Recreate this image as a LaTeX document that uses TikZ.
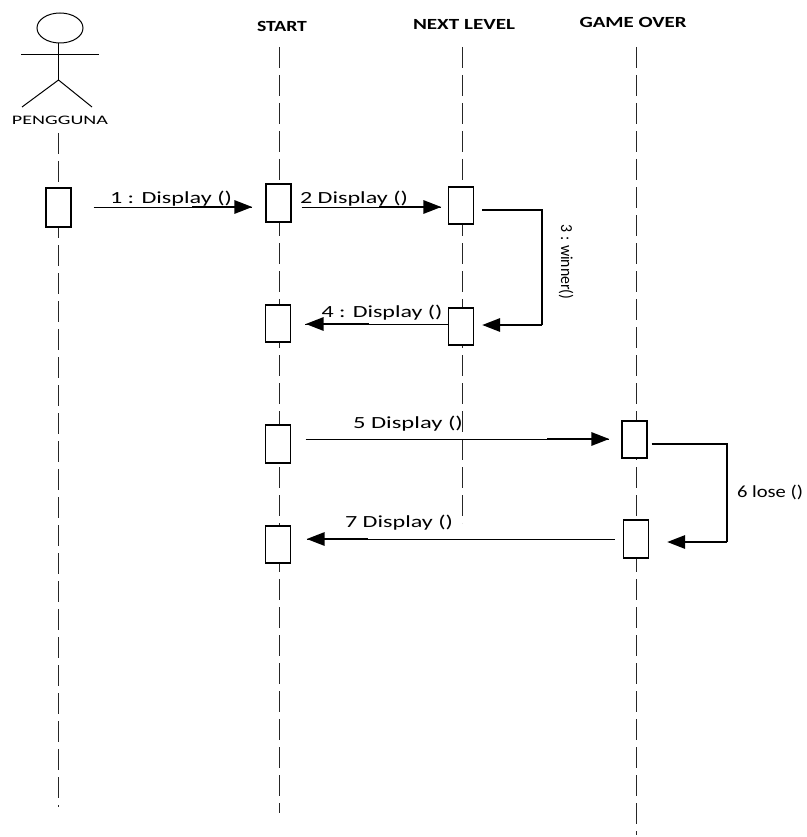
\documentclass[tikz,border=0pt]{standalone}
\usepackage{fontspec}
\setmainfont{Carlito}
\usepackage{graphicx}
\usetikzlibrary{arrows.meta,shapes.geometric,calc}
\newcommand{\fitw}[2]{\resizebox{#1}{\height}{#2}}
\tikzset{
  life/.style={draw=black!85, line width=0.9pt, dash pattern=on 21pt off 7pt},
  act/.style={draw, line width=1.1pt, fill=white, minimum width=25pt, inner sep=0pt},
  msg/.style={line width=1pt},
  heavy/.style={line width=2.8pt, -{Triangle[length=18pt,width=13pt]}},
  lbl/.style={font=\fontsize{17}{19}\selectfont, inner sep=0pt, anchor=base},
  hdr/.style={font=\fontsize{15.5}{17}\selectfont\bfseries, inner sep=0pt, anchor=base},
  limb/.style={line width=1pt}
}
\begin{document}
\begin{tikzpicture}[x=1pt,y=-1pt]
\useasboundingbox (0,0) rectangle (806,837);

% headers
\node[hdr] (hS) at (282,32) {\fitw{50pt}{START}};
\node[hdr] (hN) at (464,30) {\fitw{102pt}{NEXT LEVEL}};
\node[hdr] (hG) at (633,28) {\fitw{107pt}{GAME OVER}};

% actor
\node[draw, ellipse, line width=1pt, minimum width=46pt, minimum height=30pt, inner sep=0pt] (head) at (60,28) {};
\coordinate (hip) at (58.5,80);
\coordinate (armL) at (21,55);
\coordinate (armR) at (99,55);
\coordinate (legL) at (22,107);
\coordinate (legR) at (92,107);
\draw[limb] (head.south -| hip) -- (hip);
\draw[limb] (armL) -- (armR);
\draw[limb] (legL) -- (hip) -- (legR);
\node[lbl, font=\fontsize{13}{15}\selectfont] (pLbl) at (60,125) {\fitw{96pt}{PENGGUNA}};

% lifelines
\coordinate (pEnd) at (58,807);
\coordinate (sEnd) at (279,813);
\coordinate (nEnd) at (462,523);
\coordinate (gEnd) at (636,835);
\draw[life] (pLbl.base -| pEnd) ++(0,8) -- (pEnd);
\draw[life] (hS.base -| sEnd) ++(0,15) -- (sEnd);
\draw[life] (hN.base -| nEnd) ++(0,17) -- (nEnd);
\draw[life] (hG.base -| gEnd) ++(0,19) -- (gEnd);

% activation boxes
\node[act, minimum height=39pt] (pA) at (58.5,207.5) {};
\node[act, minimum height=38pt] (s1) at (278.5,203) {};
\node[act, minimum height=37pt] (n1) at (461,205.5) {};
\node[act, minimum height=37pt] (n2) at (461,326.5) {};
\node[act, minimum height=37pt] (s2) at (278,323.5) {};
\node[act, minimum height=38pt] (s3) at (278,444) {};
\node[act, minimum height=37pt] (g1) at (634.5,439.5) {};
\node[act, minimum height=38pt] (g2) at (636,539) {};
\node[act, minimum height=37pt] (s4) at (278,544.5) {};

% message 1
\draw[msg, shorten <=22pt, shorten >=13pt] (pA.east |- 0,207) -- (s1.west |- 0,207);
\draw[heavy, shorten >=13pt] ($(s1.west |- 0,207)+(-73,0)$) -- (s1.west |- 0,207);
\node[lbl] (l1) at (171,203) {\fitw{122pt}{1 : Display ()}};

% message 2
\draw[msg, shorten <=10pt, shorten >=6.5pt] (s1.east |- 0,207) -- (n1.west |- 0,207);
\draw[heavy, shorten >=6.5pt] ($(n1.west |- 0,207)+(-68.5,0)$) -- (n1.west |- 0,207);
\node[lbl] (l2) at (354,203) {\fitw{108pt}{2 Display ()}};

% message 3 (self)
\coordinate (c3a) at (542,210);
\coordinate (c3b) at (542,325);
\draw[msg, line width=1.3pt] ([xshift=8pt]n1.east |- c3a) -- (c3a) -- (c3b);
\draw[heavy] (c3b) -- ([xshift=8pt]n2.east |- c3b);
\node[font=\fontsize{14}{16}\selectfont, rotate=-90, inner sep=0pt] (l3) at (566,262) {\resizebox{75pt}{1.2\height}{3 : winner()}};

% message 4
\draw[msg, shorten >=14pt] (n2.west |- 0,324) -- (s2.east |- 0,324);
\draw[heavy, shorten >=14.5pt] ($(s2.east |- 0,324)+(77.5,0)$) -- (s2.east |- 0,324);
\node[lbl] (l4) at (382,317) {\fitw{121pt}{4 : Display ()}};

% message 5
\draw[msg, shorten <=14.5pt, shorten >=12pt] (s3.east |- 0,439) -- (g1.west |- 0,439);
\draw[heavy, shorten >=12pt] ($(g1.west |- 0,439)+(-74,0)$) -- (g1.west |- 0,439);
\node[lbl] (l5) at (408,428) {\fitw{110pt}{5 Display ()}};

% message 6 (self)
\coordinate (c6a) at (727,444);
\coordinate (c6b) at (727,542);
\draw[msg, line width=1.3pt] ([xshift=4pt]g1.east |- c6a) -- (c6a) -- (c6b);
\draw[heavy] (c6b) -- ([xshift=18pt]g2.east |- c6b);
\node[lbl] (l6) at (770,497) {\fitw{66pt}{6 lose ()}};

% message 7
\draw[msg, shorten <=8pt, shorten >=15.5pt] (g2.west |- 0,539) -- (s4.east |- 0,539);
\draw[heavy, shorten >=15.5pt] ($(s4.east |- 0,539)+(76.5,0)$) -- (s4.east |- 0,539);
\node[lbl] (l7) at (399,527) {\fitw{108pt}{7 Display ()}};
\end{tikzpicture}
\end{document}
